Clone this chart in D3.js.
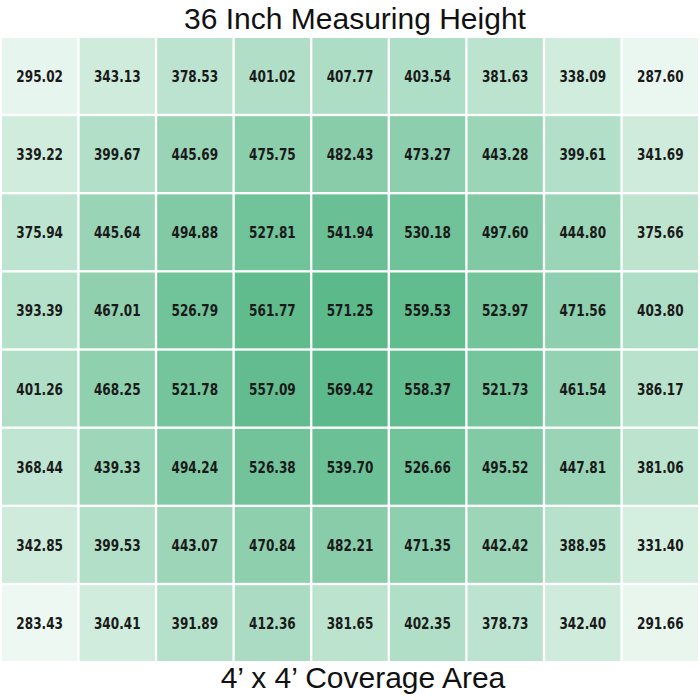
<!DOCTYPE html>
<meta charset="utf-8">
<script src="https://cdn.jsdelivr.net/npm/d3@7/dist/d3.min.js"></script>
<style>
body { margin: 0; background: #fff; }
text.title { font: 30px "Liberation Sans", Arial, sans-serif; fill: #111; }
text.val { font-family: "DejaVu Sans Condensed", "Roboto", sans-serif; font-weight: bold; font-size: 16px; fill: #1a1a1a; }
</style>
<body>
<script>

// PPFD readings, rows top to bottom
var rows = [0, 1, 2, 3, 4, 5, 6, 7];
var cols = [0, 1, 2, 3, 4, 5, 6, 7, 8];
var values = [
  [295.02, 343.13, 378.53, 401.02, 407.77, 403.54, 381.63, 338.09, 287.60],
  [339.22, 399.67, 445.69, 475.75, 482.43, 473.27, 443.28, 399.61, 341.69],
  [375.94, 445.64, 494.88, 527.81, 541.94, 530.18, 497.60, 444.80, 375.66],
  [393.39, 467.01, 526.79, 561.77, 571.25, 559.53, 523.97, 471.56, 403.80],
  [401.26, 468.25, 521.78, 557.09, 569.42, 558.37, 521.73, 461.54, 386.17],
  [368.44, 439.33, 494.24, 526.38, 539.70, 526.66, 495.52, 447.81, 381.06],
  [342.85, 399.53, 443.07, 470.84, 482.21, 471.35, 442.42, 388.95, 331.40],
  [283.43, 340.41, 391.89, 412.36, 381.65, 402.35, 378.73, 342.40, 291.66]
];
var title = "36 Inch Measuring Height";
var footer = "4\u2019 x 4\u2019 Coverage Area";

var width = 700, height = 700;
var svg = d3.select("body").append("svg")
    .attr("width", width)
    .attr("height", height);

var x = d3.scaleBand().domain(cols).range([2, 698]).paddingInner(0.03);
var y = d3.scaleBand().domain(rows).range([38, 661]).paddingInner(0.03);

var flat = [];
values.forEach(function(r, i) {
  r.forEach(function(v, j) { flat.push({row: i, col: j, v: v}); });
});

var color = d3.scaleLinear()
    .domain([d3.min(flat, d => d.v), d3.max(flat, d => d.v)])
    .range(["#ecf8f1", "#5bb98a"]);

var cell = svg.append("g").selectAll("g")
    .data(flat)
    .enter().append("g");

cell.append("rect")
    .attr("x", d => x(d.col))
    .attr("y", d => y(d.row))
    .attr("width", x.bandwidth())
    .attr("height", y.bandwidth())
    .attr("fill", d => color(d.v));

// condensed look like the original label font
cell.append("text")
    .attr("class", "val")
    .attr("transform", d => "translate(" + (x(d.col) + x.bandwidth() / 2) + "," + (y(d.row) + y.bandwidth() / 2) + ") scale(0.84,1)")
    .attr("text-anchor", "middle")
    .attr("dominant-baseline", "central")
    .text(d => d.v.toFixed(2));

svg.append("text")
    .attr("class", "title")
    .attr("x", 355)
    .attr("y", 29)
    .attr("text-anchor", "middle")
    .text(title);

svg.append("text")
    .attr("class", "title")
    .attr("x", 363)
    .attr("y", 688)
    .attr("text-anchor", "middle")
    .text(footer);

</script>
</body>
